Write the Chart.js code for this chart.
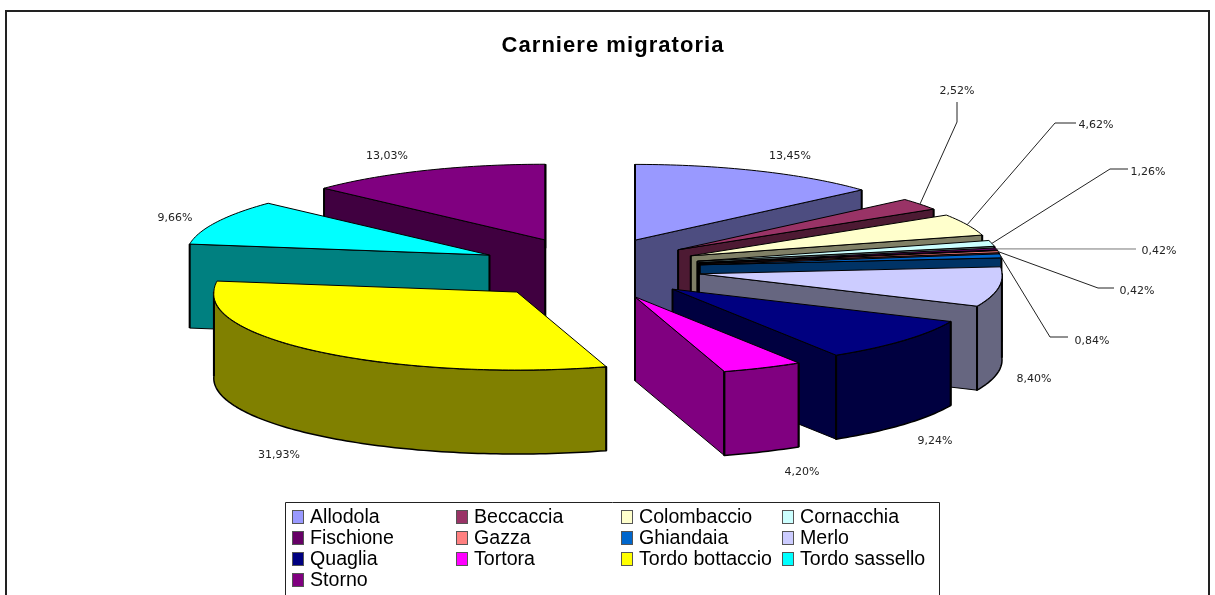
<!DOCTYPE html>
<html><head><meta charset="utf-8">
<style>html,body{margin:0;padding:0;background:#fff;overflow:hidden}#w{width:1215px;height:595px}</style>
<script src="https://cdn.jsdelivr.net/npm/chart.js@4"></script>
</head><body><div id="w"><canvas id="c" width="1215" height="595"></canvas></div>
<script>
const categories = ['Allodola','Beccaccia','Colombaccio','Cornacchia','Fischione','Gazza','Ghiandaia','Merlo','Quaglia','Tortora','Tordo bottaccio','Tordo sassello','Storno'];
const percentValues = [13.45,2.52,4.62,1.26,0.42,0.42,0.84,8.40,9.24,4.20,31.93,9.66,13.03];
const percentLabels = ['13,45%','2,52%','4,62%','1,26%','0,42%','0,42%','0,84%','8,40%','9,24%','4,20%','31,93%','9,66%','13,03%'];
const topColors = ['#9999FF','#993366','#FFFFCC','#CCFFFF','#660066','#FF8080','#0066CC','#CCCCFF','#000080','#FF00FF','#FFFF00','#00FFFF','#800080'];
const sideColors = ['#4D4D80','#4D1A33','#808066','#668080','#330033','#804040','#003366','#666680','#000040','#800080','#808000','#008080','#400040'];
// layout of the hand-placed text and leader elbows (not data)
const labelPos = [[790,156],[957,91],[1096,125],[1148,172],[1159,251],[1137,291],[1092,341],[1034,379],[935,441],[802,472],[279,455],[175,218],[387,156]];
const leaderElbows = [null,[[957,122],[957,102]],[[1055,123],[1076,123]],[[1110,169],[1128,169]],[[1136,249]],[[1098,288],[1114,288]],[[1050,337],[1068,337]],null,null,null,null,null,null];
const legendCols = [292,456,621,782];
const legendRows = [517,538,559,580];
const PIE_RADIUS = 303, EXPLODE = 111, SQUASH = 0.25, EXPLODE_SQUASH = 0.28, NEAR_GROW = 0.03, DEPTH = 84, CX_SHIFT = -23.5, PIE_CY = 268.5;

function geom(el){
  const cx = el.x + CX_SHIFT, cy = PIE_CY;
  const mid = (el.startAngle + el.endAngle) / 2;
  const off = el.options.offset;
  const tx = cx + Math.cos(mid)*off, ty = cy + Math.sin(mid)*off*EXPLODE_SQUASH;
  const r = el.outerRadius;
  return {tx, ty, r, mid, pt: a => {
    const f = 1 + NEAR_GROW*Math.max(0, Math.sin(a));
    return [tx + r*f*Math.cos(a), ty + r*SQUASH*f*Math.sin(a)];
  }};
}
function arcTo(c, g, a0, a1, dy){
  const n = Math.max(2, Math.ceil(Math.abs(a1-a0)/0.02));
  for (let k=0;k<=n;k++){
    const p = g.pt(a0+(a1-a0)*k/n);
    c.lineTo(p[0], p[1]+dy);
  }
}
const pie3d = {
  id:'pie3d',
  beforeDraw(chart){
    const c = chart.ctx; c.save();
    c.strokeStyle='#222'; c.lineWidth=2; c.beginPath();
    c.moveTo(6,596); c.lineTo(6,11); c.lineTo(1209,11); c.lineTo(1209,596); c.stroke();
    c.restore();
    c.letterSpacing='1.05px';
  },
  beforeDatasetDraw(chart, args){
    const c = chart.ctx, meta = args.meta;
    c.letterSpacing='0px';
    const order = meta.data.map((el,i)=>({el,i})).sort((a,b)=>
      Math.sin((a.el.startAngle+a.el.endAngle)/2) - Math.sin((b.el.startAngle+b.el.endAngle)/2));
    c.save(); c.lineJoin='round'; c.strokeStyle='#000';
    for (const {el,i} of order){
      const g = geom(el), S = el.startAngle, E = el.endAngle;
      const pa = g.pt(S), pb = g.pt(E);
      c.fillStyle = sideColors[i];
      // radial walls that face the viewer
      const walls = [];
      if (-Math.cos(S) > -1e-6) walls.push(pa);
      if (Math.cos(E) > -1e-6) walls.push(pb);
      for (const [px,py] of walls){
        c.beginPath(); c.moveTo(g.tx,g.ty); c.lineTo(px,py); c.lineTo(px,py+DEPTH); c.lineTo(g.tx,g.ty+DEPTH); c.closePath();
        c.fill(); c.lineWidth=1; c.stroke();
        c.lineWidth=2; c.beginPath(); c.moveTo(px,py); c.lineTo(px,py+DEPTH); c.stroke();
      }
      if (walls.length){ c.lineWidth=2; c.beginPath(); c.moveTo(g.tx,g.ty); c.lineTo(g.tx,g.ty+DEPTH); c.stroke(); }
      // outer rim, front half only
      for (const k of [0,2]){
        const a0 = Math.max(S, k*Math.PI), a1 = Math.min(E, k*Math.PI+Math.PI);
        if (a1 > a0){
          c.beginPath();
          const p0 = g.pt(a0); c.moveTo(p0[0],p0[1]);
          arcTo(c,g,a0,a1,0); arcTo(c,g,a1,a0,DEPTH);
          c.closePath(); c.fill(); c.lineWidth=1.5; c.stroke();
          c.lineWidth=2; c.beginPath();
          for (const a of [a0,a1]){ const p=g.pt(a); c.moveTo(p[0],p[1]); c.lineTo(p[0],p[1]+DEPTH); }
          c.stroke();
        }
      }
      // top face
      c.fillStyle = topColors[i];
      c.beginPath(); c.moveTo(g.tx,g.ty);
      arcTo(c,g,S,E,0);
      c.closePath(); c.fill(); c.lineWidth=1; c.stroke();
      // heavy edge on the edge-on radial sides
      c.lineWidth=2;
      for (const [a,p] of [[S,pa],[E,pb]]){
        if (Math.abs(Math.cos(a))<1e-3){ c.beginPath(); c.moveTo(g.tx,g.ty); c.lineTo(p[0],p[1]); c.stroke(); }
      }
    }
    c.restore();
    return false;
  },
  afterDatasetsDraw(chart){
    const c = chart.ctx, meta = chart.getDatasetMeta(0);
    c.save();
    c.lineWidth=1;
    meta.data.forEach((el,i)=>{
      const elbows = leaderElbows[i];
      if (elbows){
        const g = geom(el), p = g.pt(g.mid);
        c.strokeStyle = i===4 ? '#777' : '#222';
        c.beginPath(); c.moveTo(p[0],p[1]);
        elbows.forEach(q=>c.lineTo(q[0],q[1])); c.stroke();
      }
    });
    c.font='11px "DejaVu Sans"'; c.fillStyle='#222'; c.textAlign='center'; c.textBaseline='middle';
    percentLabels.forEach((t,i)=>c.fillText(t,labelPos[i][0],labelPos[i][1]));
    // legend box
    c.strokeStyle='#222'; c.lineWidth=1;
    c.fillStyle='#fff';
    c.beginPath(); c.rect(285.5,502.5,654,100); c.fill(); c.stroke();
    c.font='19.6px "Liberation Sans"'; c.textAlign='left';
    categories.forEach((t,i)=>{
      const x=legendCols[i%4], y=legendRows[Math.floor(i/4)];
      c.fillStyle=topColors[i]; c.fillRect(x+0.5,y-6.5,11,13);
      c.strokeStyle='#555'; c.strokeRect(x+0.5,y-6.5,11,13);
      c.fillStyle='#000'; c.fillText(t,x+18,y+1);
    });
    c.restore();
  }
};
new Chart(document.getElementById('c'),{
  type:'pie',
  data:{labels:categories,datasets:[{data:percentValues,backgroundColor:topColors,radius:PIE_RADIUS,offset:EXPLODE,borderWidth:0}]},
  options:{
    responsive:false,animation:false,events:[],
    layout:{padding:{left:11,top:12}},
    plugins:{
      legend:{display:false},tooltip:{enabled:false},
      title:{display:true,text:'Carniere migratoria',color:'#000',font:{family:'"Liberation Sans"',size:22,weight:'bold'},padding:{top:21,bottom:0}}
    }
  },
  plugins:[pie3d]
});
</script></body></html>
